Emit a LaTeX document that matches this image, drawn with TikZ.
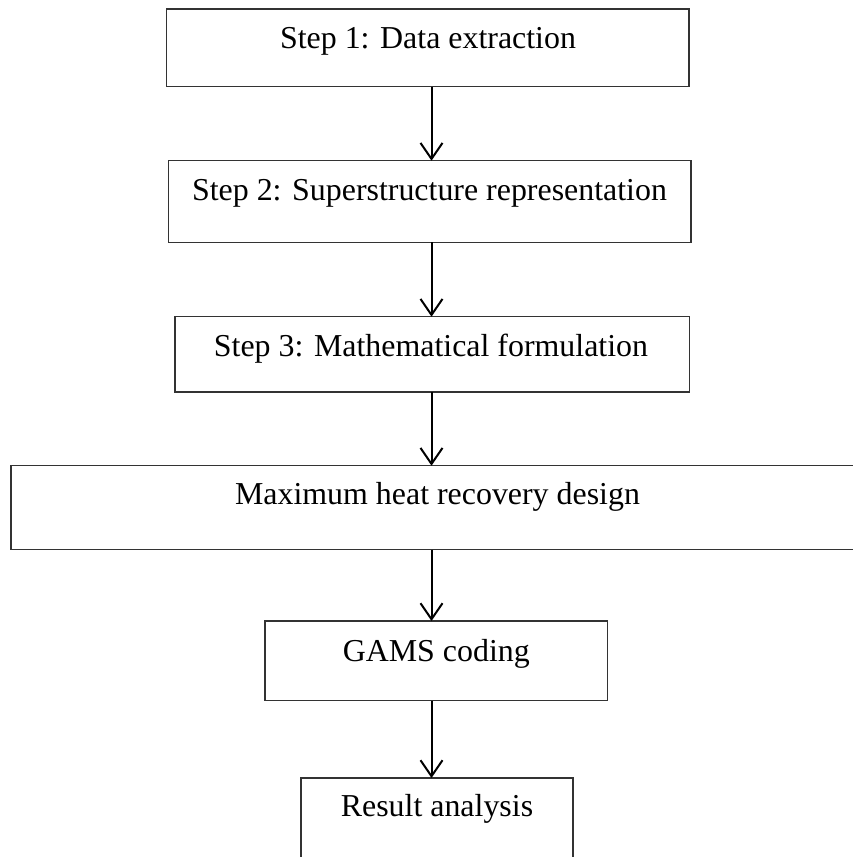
\documentclass[tikz,border=0pt]{standalone}
\usepackage{fontspec}
\setmainfont{Liberation Serif}
\usetikzlibrary{arrows.meta}
\begin{document}
\begin{tikzpicture}[x=1pt,y=-1pt,
  stagebox/.style={draw=black!80,line width=1.4pt,inner sep=0pt,outer sep=0pt},
  stagetext/.style={anchor=base,inner sep=0pt,font=\fontsize{31.9}{38}\selectfont},
  flow/.style={line width=2pt,-{Straight Barb[length=16pt,width=22pt,line width=2pt]}}]
  \useasboundingbox (0,0) rectangle (852,857);
  % stage boxes (sizes between border centres)
  \node[stagebox,minimum width=522.3pt,minimum height=77.7pt] (s1) at (427.85,47.85) {};
  \node[stagebox,minimum width=522.7pt,minimum height=81.6pt] (s2) at (429.65,201.5) {};
  \node[stagebox,minimum width=514.3pt,minimum height=75.3pt] (s3) at (432.15,354.35) {};
  \node[stagebox,minimum width=855pt,minimum height=84pt] (s4) at (438.5,507.7) {};
  \node[stagebox,minimum width=342.7pt,minimum height=79.7pt] (s5) at (436.35,660.85) {};
  \node[stagebox,minimum width=272pt,minimum height=92pt] (s6) at (437,824) {};
  % labels, set in the upper part of each box
  \node[stagetext] (t1) at (428,48.3) {Step 1: Data extraction};
  \node[stagetext] (t2) at (429.5,200.5) {Step 2: Superstructure representation};
  \node[stagetext] (t3) at (431,356) {Step 3: Mathematical formulation};
  \node[stagetext] (t4) at (437.5,504) {Maximum heat recovery design};
  \node[stagetext] (t5) at (436.3,661) {GAMS coding};
  \node[stagetext] (t6) at (437,816.7) {Result analysis};
  % all arrows share one column
  \coordinate (ax) at (431.5,0);
  \draw[flow] (s1.south -| ax) -- (s2.north -| ax);
  \draw[flow] (s2.south -| ax) -- (s3.north -| ax);
  \draw[flow] (s3.south -| ax) -- (s4.north -| ax);
  \draw[flow] (s4.south -| ax) -- (s5.north -| ax);
  \draw[flow] (s5.south -| ax) -- (s6.north -| ax);
\end{tikzpicture}
\end{document}
